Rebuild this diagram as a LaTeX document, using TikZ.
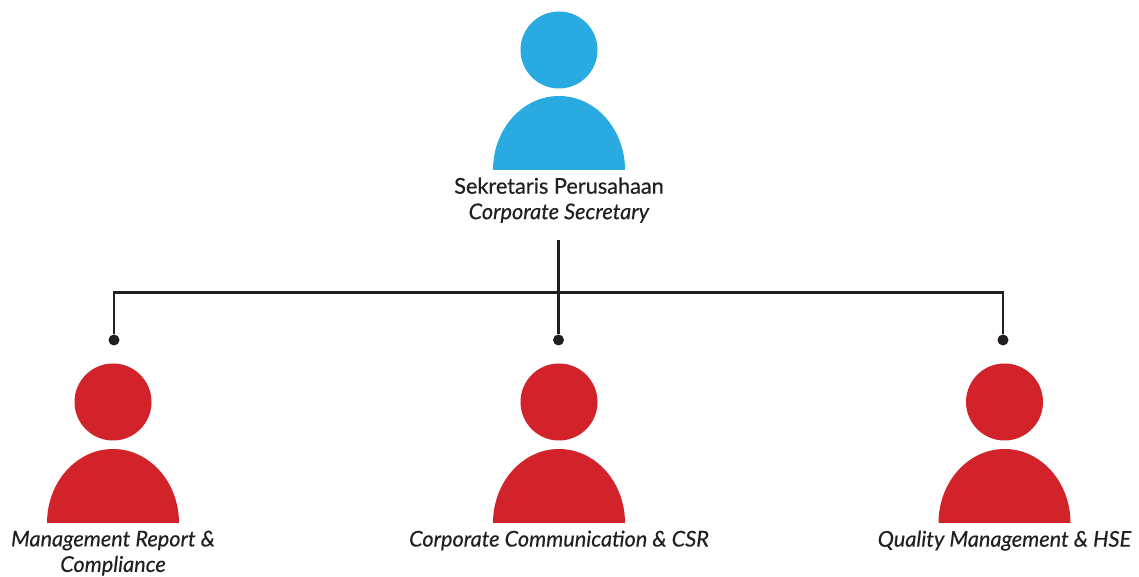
\documentclass[tikz,border=0pt]{standalone}
\usepackage{fontspec}
\setmainfont{Lato}[BoldFont={Lato},BoldFeatures={FakeBold=0.6},ItalicFeatures={FakeBold=0.35}]
\usepackage{xcolor}
\usetikzlibrary{positioning}
\definecolor{secretaryblue}{RGB}{41, 171, 226}
\definecolor{unitred}{RGB}{210, 35, 42}
\definecolor{linedark}{RGB}{35, 31, 32}

\begin{document}
\begin{tikzpicture}[
    x=1pt, y=1pt,
    node distance=7.5pt,
    head/.style={circle, minimum size=77pt, inner sep=0pt},
    caption/.style={align=center, inner sep=0pt, font=\fontsize{21.7}{25.5}\selectfont, text=linedark},
    dot/.style={circle, fill=linedark, minimum size=11pt, inner sep=0pt},
    link/.style={draw=linedark, line width=2.5pt}
]
    \useasboundingbox (0,0) rectangle (1139,577);

    % top person
    \node[head, fill=secretaryblue] (tophead) at (559,527) {};
    \fill[secretaryblue] (493,407) arc[start angle=180, end angle=0, x radius=66, y radius=74] -- cycle;
    \coordinate (topbase) at (559,407);
    \node[caption, below=of topbase] (toptext) {\textbf{Sekretaris Perusahaan}\\\textit{Corporate Secretary}};

    % three persons below
    \node[head, fill=unitred] (lefthead) at (113,175) {};
    \fill[unitred] (47,54) arc[start angle=180, end angle=0, x radius=66, y radius=74] -- cycle;
    \coordinate (leftbase) at (113,54);
    \node[caption, below=of leftbase] (lefttext) {\textit{Management Report \&}\\\textit{Compliance}};

    \node[head, fill=unitred] (midhead) at (559,175) {};
    \fill[unitred] (493,54) arc[start angle=180, end angle=0, x radius=66, y radius=74] -- cycle;
    \coordinate (midbase) at (559,54);
    \node[caption, below=of midbase] (midtext) {\textit{Corporate Communication \& CSR}};

    \node[head, fill=unitred] (righthead) at (1004.5,175) {};
    \fill[unitred] (938.5,54) arc[start angle=180, end angle=0, x radius=66, y radius=74] -- cycle;
    \coordinate (rightbase) at (1004.5,54);
    \node[caption, below=of rightbase] (righttext) {\textit{Quality Management \& HSE}};

    % connectors
    \coordinate (topend) at (558.5,337);
    \coordinate (branch) at (558.5,284.5);
    \node[dot] (leftdot) at (114,237) {};
    \node[dot] (middot) at (558.5,237) {};
    \node[dot] (rightdot) at (1003,237) {};

    \draw[link] (topend) -- (middot);
    \draw[link] (branch) -| (leftdot);
    \draw[link] (branch) -| (rightdot);
\end{tikzpicture}
\end{document}
